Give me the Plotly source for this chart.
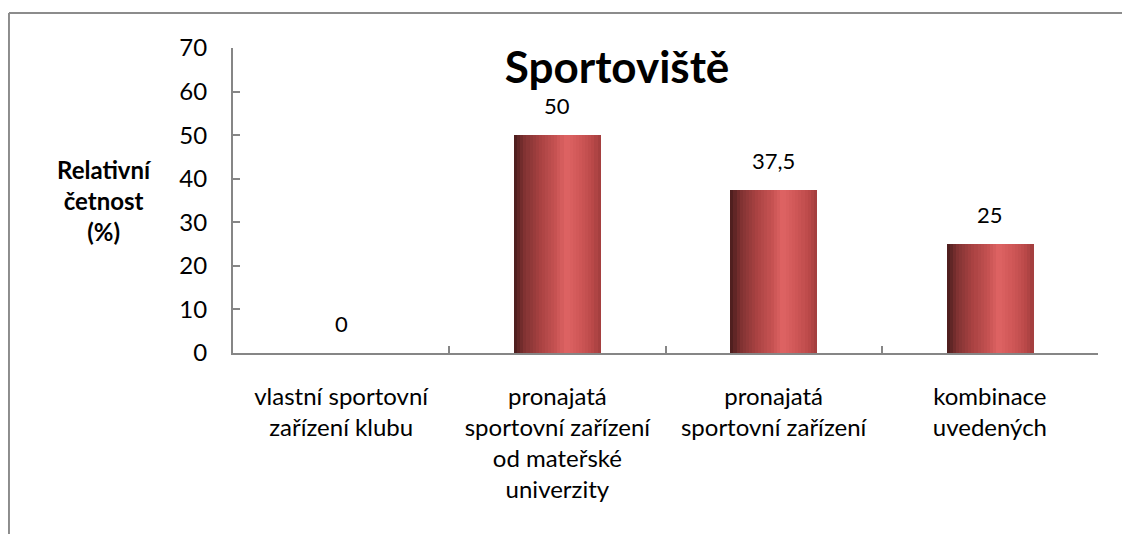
import plotly.graph_objects as go

categories = [
    "vlastní sportovní<br>zařízení klubu",
    "pronajatá<br>sportovní zařízení<br>od mateřské<br>univerzity",
    "pronajatá<br>sportovní zařízení",
    "kombinace<br>uvedených",
]
values = [0, 50, 37.5, 25]
y_ticks = [0, 10, 20, 30, 40, 50, 60, 70]

FONT = "Lato, Carlito, Calibri, sans-serif"
AXIS_GREY = "#868686"

# cylinder shading, left -> right across the bar
shade_stops = [
    (0.00, (0x48, 0x1c, 0x1c)),
    (0.12, (0x80, 0x32, 0x32)),
    (0.30, (0xa8, 0x42, 0x42)),
    (0.48, (0xc6, 0x52, 0x52)),
    (0.60, (0xdf, 0x64, 0x64)),
    (0.75, (0xd0, 0x58, 0x58)),
    (0.90, (0xbc, 0x4a, 0x4a)),
    (1.00, (0xa0, 0x3c, 0x3c)),
]


def shade(t):
    for (t0, c0), (t1, c1) in zip(shade_stops, shade_stops[1:]):
        if t0 <= t <= t1:
            f = (t - t0) / (t1 - t0)
            r, g, b = (round(a + (b_ - a) * f) for a, b_ in zip(c0, c1))
            return f"rgb({r},{g},{b})"
    return "rgb(160,60,60)"


BAR_WIDTH = 0.4
N_STRIPS = 28
strip_w = BAR_WIDTH / N_STRIPS

fig = go.Figure()
for i in range(N_STRIPS):
    fig.add_trace(go.Bar(
        x=categories, y=values,
        width=strip_w * 1.15,
        offset=-BAR_WIDTH / 2 + i * strip_w,
        marker={"color": shade((i + 0.5) / N_STRIPS), "line": {"width": 0}},
        showlegend=False, hoverinfo="skip",
    ))

labels = [f"{v:g}".replace(".", ",") for v in values]
for cat, v, lbl in zip(categories, values, labels):
    fig.add_annotation(
        x=cat, y=v, text=lbl, showarrow=False, yanchor="bottom", yshift=14,
        font={"family": FONT, "size": 22, "color": "#000"},
    )

fig.add_annotation(
    xref="paper", yref="paper", x=-0.148, y=0.5,
    text="<b>Relativní<br>četnost<br>(%)</b>", showarrow=False,
    xanchor="center", yanchor="middle",
    font={"family": FONT, "size": 24, "color": "#000"},
)

# outer chart border (only top and left visible)
border = {"color": "#8c8c8c", "width": 2}
fig.add_shape(type="line", xref="paper", yref="paper",
              x0=-0.259, x1=1.2, y0=1.115, y1=1.115, line=border)
fig.add_shape(type="line", xref="paper", yref="paper",
              x0=-0.259, x1=-0.259, y0=1.115, y1=-0.7, line=border)

fig.update_xaxes(
    showline=True, linecolor=AXIS_GREY, linewidth=2,
    ticks="inside", tickson="boundaries", ticklen=7, tickcolor=AXIS_GREY,
    tickwidth=2, tickfont={"family": FONT, "size": 24, "color": "#000"},
    ticklabelstandoff=21, showgrid=False,
)
fig.update_yaxes(
    range=[0, 70], tickvals=y_ticks, showline=True, linecolor=AXIS_GREY,
    linewidth=2, ticks="inside", ticklen=7, tickcolor=AXIS_GREY, tickwidth=2,
    tickfont={"family": FONT, "size": 24, "color": "#000"},
    ticklabelstandoff=19, showgrid=False, zeroline=False,
)
fig.update_layout(
    width=1122, height=526,
    barmode="overlay", bargap=0,
    plot_bgcolor="white", paper_bgcolor="white",
    margin={"l": 225, "r": 32, "t": 40, "b": 181},
    title={
        "text": "<b>Sportoviště</b>", "xref": "paper", "x": 0.444,
        "xanchor": "center", "y": 1 - 60 / 526, "yanchor": "middle",
        "font": {"family": FONT, "size": 44, "color": "#000"},
    },
)

fig.write_html("out.html")
